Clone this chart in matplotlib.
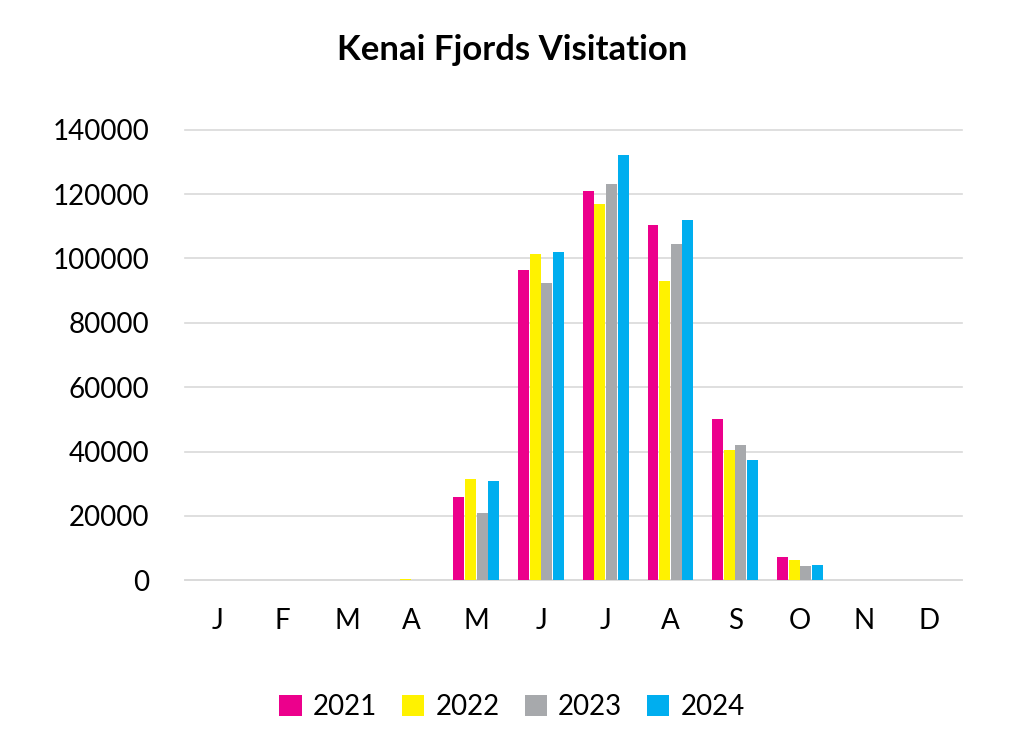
import numpy as np
import matplotlib.pyplot as plt

months = ["J", "F", "M", "A", "M", "J", "J", "A", "S", "O", "N", "D"]
years = ["2021", "2022", "2023", "2024"]
v2021 = [0, 0, 0, 0, 26000, 96500, 121000, 110500, 50000, 7200, 0, 0]
v2022 = [0, 0, 0, 300, 31500, 101500, 117000, 93000, 40500, 6300, 0, 0]
v2023 = [0, 0, 0, 0, 20800, 92500, 123000, 104500, 42000, 4500, 0, 0]
v2024 = [0, 0, 0, 0, 31000, 102000, 132000, 112000, 37500, 4700, 0, 0]
colors = ["#EC008C", "#FFF200", "#A7A9AC", "#00AEEF"]

plt.rcParams["font.family"] = "Lato"
fig = plt.figure(figsize=(10.24, 7.45), dpi=100)
ax = fig.add_axes([0.181, 0.221, 0.758, 0.605])

x = np.arange(len(months))
w = 0.17
for i, (vals, c, lab) in enumerate(zip([v2021, v2022, v2023, v2024], colors, years)):
    ax.bar(x + (i - 1.5) * (w + 0.01), vals, width=w, color=c, label=lab, zorder=3)

ax.set_xlim(-0.5, 11.5)
ax.set_ylim(0, 140000)
ax.set_yticks(range(0, 140001, 20000))
ax.tick_params(axis="y", labelsize=20, length=0, pad=26)
ax.set_xticks(x)
ax.set_xticklabels(months)
ax.tick_params(axis="x", labelsize=20, length=0, pad=20)
ax.grid(axis="y", color="#D9D9D9", linewidth=1.2, zorder=0)
ax.set_axisbelow(True)
for s in ["top", "right", "left"]:
    ax.spines[s].set_visible(False)
ax.spines["bottom"].set_color("#D9D9D9")
ax.spines["bottom"].set_linewidth(1.2)
for line in ax.get_ygridlines():
    line.set_clip_on(False)

fig.suptitle("Kenai Fjords Visitation", y=0.955, fontsize=25, fontweight="bold")
fig.legend(loc="lower center", bbox_to_anchor=(0.5, 0.0), ncol=4, frameon=False,
           fontsize=20, handlelength=0.8, handleheight=0.8, columnspacing=0.9,
           handletextpad=0.4)

fig.savefig("out.png", dpi=100)
